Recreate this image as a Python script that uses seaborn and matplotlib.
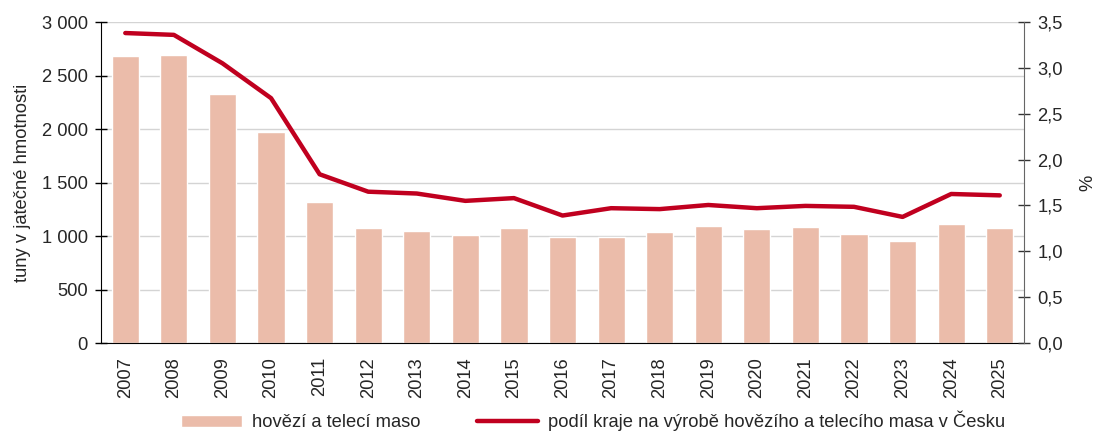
import matplotlib
matplotlib.use("Agg")
import matplotlib.pyplot as plt
import matplotlib.ticker as mticker
import numpy as np
import pandas as pd
import seaborn as sns

years = [str(y) for y in range(2007, 2026)]
maso_t = [2680, 2690, 2332, 1972, 1318, 1075, 1047, 1009, 1075, 991,
          995, 1042, 1093, 1065, 1084, 1019, 956, 1112, 1078]
podil_pct = [3.38, 3.36, 3.05, 2.67, 1.84, 1.65, 1.63, 1.55, 1.58, 1.39,
             1.47, 1.46, 1.505, 1.47, 1.495, 1.485, 1.375, 1.625, 1.61]

bar_label = "hovězí a telecí maso"
line_label = "podíl kraje na výrobě hovězího a telecího masa v Česku"

df = pd.DataFrame({"rok": years, "maso": maso_t, "podil": podil_pct})
df["pos"] = np.arange(len(df))

sns.set_style("white")
plt.rcParams["font.family"] = ["Liberation Sans", "DejaVu Sans"]
fs = 13.2

bar_color = "#ebbcaa"
line_color = "#c0001f"

fig = plt.figure(figsize=(10.99, 4.32), dpi=100)
ax = fig.add_axes([0.0919, 0.206, 0.8399, 0.743])

sns.barplot(data=df, x="rok", y="maso", color=bar_color, width=0.56,
            saturation=1, ax=ax, label=bar_label, zorder=2)
ax.set_xlim(-0.5, len(df) - 0.5)
ax.set_ylim(0, 3000)
ax.set_yticks(np.arange(0, 3001, 500))
ax.yaxis.set_major_formatter(mticker.FuncFormatter(
    lambda v, p: f"{int(v):,}".replace(",", " ")))
ax.grid(axis="y", color="#d4d4d4", linewidth=1, zorder=0)
ax.set_axisbelow(True)

ax.set_xticks(df["pos"], df["rok"], rotation=90)
ax.set_xticks(np.arange(-0.5, len(df)), minor=True)
ax.tick_params(axis="x", which="major", length=0, pad=10, labelsize=fs)
ax.tick_params(axis="x", which="minor", direction="inout", length=9,
               width=1, color="black")
ax.tick_params(axis="y", direction="inout", length=9, width=1,
               color="black", labelsize=fs, pad=5)
ax.set_xlabel("")
ax.set_ylabel("tuny v jatečné hmotnosti", fontsize=fs, labelpad=8)

for s in ["top", "right"]:
    ax.spines[s].set_visible(False)
ax.spines["left"].set_color("black")
ax.spines["bottom"].set_color("black")

ax2 = ax.twinx()
sns.lineplot(data=df, x="pos", y="podil", color=line_color, linewidth=3.2,
             ax=ax2, label=line_label, solid_capstyle="round", zorder=3)
ax2.set_ylim(0, 3.5)
ax2.set_yticks(np.arange(0, 3.51, 0.5))
ax2.yaxis.set_major_formatter(mticker.FuncFormatter(
    lambda v, p: f"{v:.1f}".replace(".", ",")))
ax2.tick_params(axis="y", direction="inout", length=9, width=1,
                color="#333333", labelsize=fs, pad=5)
ax2.set_ylabel("%", fontsize=fs, labelpad=12)
ax2.set_xlabel("")
for s in ["top", "left", "bottom"]:
    ax2.spines[s].set_visible(False)
ax2.spines["right"].set_color("#666666")
ax2.grid(False)
ax2.set_xlim(-0.5, len(df) - 0.5)

h1, l1 = ax.get_legend_handles_labels()
h2, l2 = ax2.get_legend_handles_labels()
if ax2.get_legend():
    ax2.get_legend().remove()
if ax.get_legend():
    ax.get_legend().remove()
fig.legend(h1 + h2, l1 + l2, loc="center", ncol=2, frameon=False,
           bbox_to_anchor=(593 / 1099, 1 - 421 / 432), fontsize=fs,
           handlelength=3.3, handleheight=0.6, columnspacing=3.1,
           handletextpad=0.55)

fig.savefig("out.png", dpi=100)
